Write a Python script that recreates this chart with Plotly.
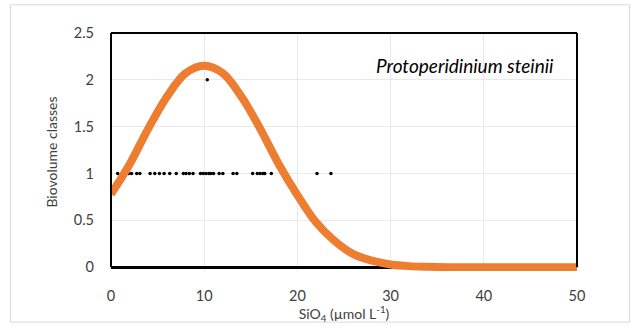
import plotly.graph_objects as go

# Observed data points (SiO4 vs biovolume class)
obs_x = [0.72, 1.32, 1.6, 1.88, 2.2, 2.76, 3.1, 4.2, 4.7, 5.2, 5.7, 6.3, 7.0,
         7.76, 8.05, 8.4, 8.8, 9.6, 9.9, 10.2, 10.5, 10.7, 11.0, 11.6, 12.0,
         13.1, 13.5, 15.2, 15.7, 16.0, 16.3, 16.5, 17.2, 22.1, 23.6, 10.33]
obs_y = [1] * 35 + [2]

# Fitted response curve
fit_x = [0, 2, 4, 6, 8, 10, 12, 14, 16, 18, 20, 22, 24, 26, 28, 30, 32, 34, 37, 40, 45, 50]
fit_y = [0.78, 1.10, 1.48, 1.82, 2.07, 2.15, 2.07, 1.82, 1.48, 1.10, 0.77, 0.48,
         0.28, 0.14, 0.07, 0.03, 0.012, 0.005, 0.0, 0.0, 0.0, 0.0]

x_ticks = [0, 10, 20, 30, 40, 50]
y_ticks = [0, 0.5, 1, 1.5, 2, 2.5]
title_text = "<i>Protoperidinium steinii</i>"
x_title = "SiO<sub>4</sub> (µmol L<sup>-1</sup>)"
y_title = "Biovolume classes"

Y_MIN, Y_MAX = -0.04, 2.5
FONT = "Lato"

fig = go.Figure()
fig.add_trace(go.Scatter(x=obs_x, y=obs_y, mode="markers",
                         marker=dict(color="black", size=3.5), hoverinfo="skip"))
fig.add_trace(go.Scatter(x=fit_x, y=fit_y, mode="lines", line_shape="spline",
                         line=dict(color="#ED7D31", width=8), hoverinfo="skip"))

# paper coordinate of y = 0 and helpers for frame
y0p = (0 - Y_MIN) / (Y_MAX - Y_MIN)
L, R, T, B = 111, 60, 33, 56
W, H = 637, 329
pw, ph = W - L - R, H - T - B

def px_to_paper_x(px):
    return (px - L) / pw

def py_to_paper_y(py):
    return (H - B - py) / ph

frame = dict(type="line", xref="paper", yref="paper", layer="above",
             line=dict(color="black", width=2))
shapes = [
    dict(frame, x0=0, x1=0, y0=y0p, y1=1),
    dict(frame, x0=1, x1=1, y0=y0p, y1=1),
    dict(frame, x0=0, x1=1, y0=1, y1=1),
    dict(type="rect", xref="paper", yref="paper", layer="below",
         x0=px_to_paper_x(10.5), x1=px_to_paper_x(629.5),
         y0=py_to_paper_y(324.5), y1=py_to_paper_y(4.5),
         line=dict(color="#d9d9d9", width=1)),
]

fig.update_layout(
    width=W, height=H,
    margin=dict(l=L, r=R, t=T, b=B),
    paper_bgcolor="white", plot_bgcolor="white",
    showlegend=False,
    font=dict(family=FONT, color="#404040", size=14),
    shapes=shapes,
    annotations=[dict(text=title_text, xref="paper", yref="paper",
                      x=px_to_paper_x(556), y=py_to_paper_y(66),
                      xanchor="right", yanchor="middle", showarrow=False,
                      font=dict(family=FONT, size=19, color="black"))],
)
fig.update_xaxes(range=[0, 50], tickvals=x_ticks, showgrid=True, gridcolor="#e9e9e9",
                 gridwidth=1, zeroline=False, showline=False, ticks="",
                 ticklabelstandoff=14,
                 tickfont=dict(size=14.5, color="#404040"),
                 title=dict(text=x_title, font=dict(size=14, color="#404040"), standoff=4))
fig.update_yaxes(range=[Y_MIN, Y_MAX], tickvals=y_ticks, showgrid=True, gridcolor="#e9e9e9",
                 gridwidth=1, zeroline=True, zerolinecolor="black", zerolinewidth=2.5,
                 showline=False, ticks="", ticklabelstandoff=16,
                 tickfont=dict(size=14.5, color="#404040"),
                 title=dict(text=y_title, font=dict(size=14, color="#404040"), standoff=12))

fig.write_html("out.html")
